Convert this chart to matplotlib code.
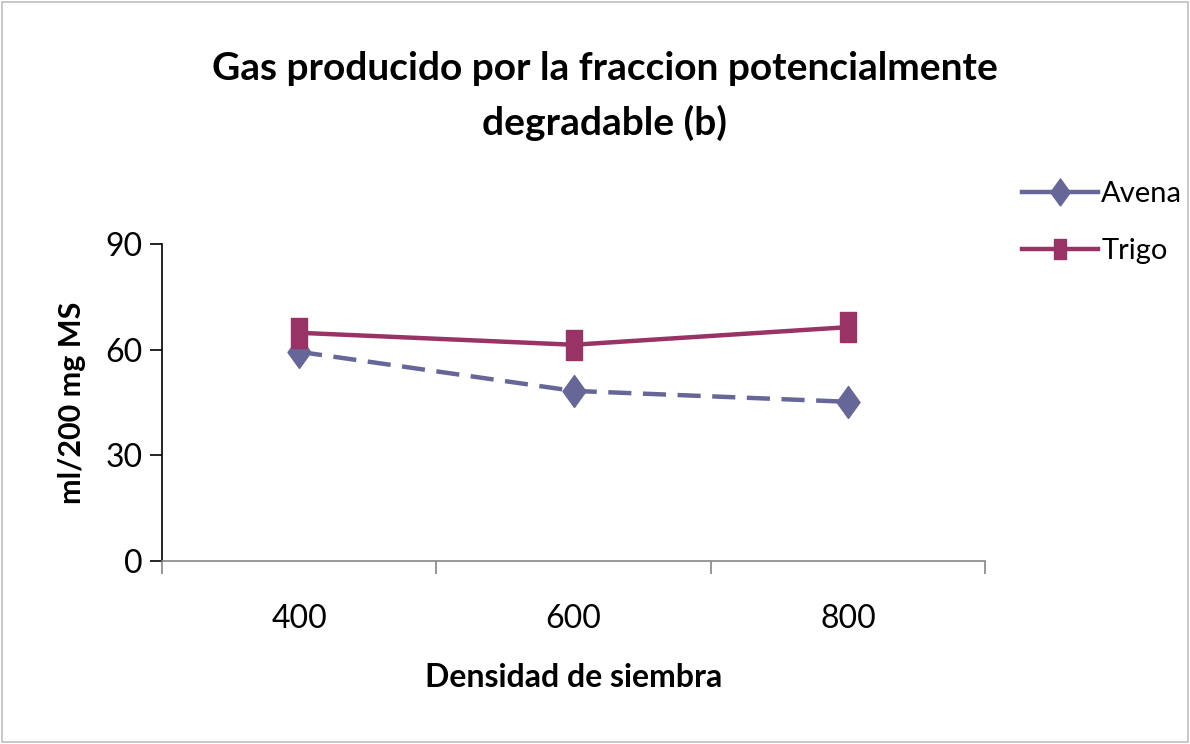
import matplotlib.pyplot as plt
from matplotlib.lines import Line2D
from matplotlib.patches import Rectangle

plt.rcParams['font.family'] = ['Lato', 'DejaVu Sans']

densidad = ['400', '600', '800']
avena = [59.4, 48.3, 45.2]
trigo = [64.8, 61.4, 66.4]

c_avena = '#666699'
c_trigo = '#993366'

diamond = [(0, -1), (0.72, 0), (0, 1), (-0.72, 0), (0, -1)]
rect = [(-0.55, -1), (0.55, -1), (0.55, 1), (-0.55, 1), (-0.55, -1)]

fig = plt.figure(figsize=(11.9, 7.44), dpi=100)
ax = fig.add_axes([0.136, 0.246, 0.692, 0.426])

x = range(len(densidad))
ax.plot(x, avena, color=c_avena, lw=3.2, dashes=(5.2, 2.6),
        marker=diamond, ms=23, mec=c_avena, mfc=c_avena)
ax.plot(x, trigo, color=c_trigo, lw=3.2,
        marker=rect, ms=21, mec=c_trigo, mfc=c_trigo)

ax.set_xlim(-0.5, 2.5)
ax.set_ylim(0, 90)
ax.set_yticks([0, 30, 60, 90])
ax.set_xticks(list(x))
ax.set_xticklabels(densidad)
ax.set_xticks([-0.5, 0.5, 1.5, 2.5], minor=True)
ax.tick_params(axis='x', which='major', length=0, labelsize=23, pad=31)
ax.tick_params(axis='x', which='minor', length=9, color='#868686', width=1.2)
ax.tick_params(axis='y', length=9, width=1.2, labelsize=23, pad=5)

for s in ['top', 'right']:
    ax.spines[s].set_visible(False)
ax.spines['left'].set_linewidth(1.2)
ax.spines['bottom'].set_color('#868686')
ax.spines['bottom'].set_linewidth(1.2)

ax.set_xlabel('Densidad de siembra', fontsize=23, fontweight='bold', labelpad=21)
ax.set_ylabel('ml/200 mg MS', fontsize=22, fontweight='bold', labelpad=14)

fig.text(0.508, 0.871, 'Gas producido por la fraccion potencialmente\ndegradable (b)',
         ha='center', va='center', fontsize=28, fontweight='bold', linespacing=1.6)

handles = [
    Line2D([], [], color=c_avena, lw=3.2, marker=diamond, ms=19.5, label='Avena'),
    Line2D([], [], color=c_trigo, lw=3.2, marker=rect, ms=14.5, label='Trigo'),
]
fig.legend(handles=handles, loc='upper left', bbox_to_anchor=(0.849, 0.772),
           frameon=False, fontsize=21, handlelength=2.6, handletextpad=0.12,
           labelspacing=1.05, borderaxespad=0)

fig.patches.append(Rectangle((0.002, 0.003), 0.996, 0.994, transform=fig.transFigure,
                             fill=False, edgecolor='#bfbfbf', lw=1.2))

fig.savefig('out.png', dpi=100)
